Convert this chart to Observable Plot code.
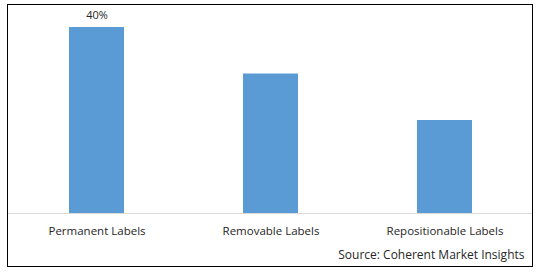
<!DOCTYPE html>
<html>
<head>
<meta charset="utf-8">
<script src="https://cdn.jsdelivr.net/npm/d3@7"></script>
<script src="https://cdn.jsdelivr.net/npm/@observablehq/plot@0.6"></script>
<style>
  html, body { margin: 0; padding: 0; background: #fff; }
  #wrap { position: relative; width: 539px; height: 272px; }
  #border { position: absolute; left: 7px; top: 4px; width: 526px; height: 263px; box-sizing: border-box; border: 1px solid #000; pointer-events: none; }
  #chart svg { display: block; }
</style>
</head>
<body>
<div id="wrap">
  <div id="chart"></div>
  <div id="border"></div>
</div>
<script>
const categories = ["Permanent Labels", "Removable Labels", "Repositionable Labels"];
const shares = [40, 30, 20];
const valueLabels = ["40%", "", ""];
const source = "Source: Coherent Market Insights";

const data = categories.map((c, i) => ({category: c, value: shares[i], label: valueLabels[i]}));

const chart = Plot.plot({
  width: 539,
  height: 272,
  marginLeft: 8,
  marginRight: 7,
  marginTop: 27,
  marginBottom: 59,
  style: {fontFamily: "'Open Sans', sans-serif", fontSize: "11px", color: "#262626", background: "#fff"},
  x: {type: "band", domain: categories, paddingInner: 0.685, paddingOuter: 0.3425, axis: null},
  y: {domain: [0, 40], axis: null},
  marks: [
    Plot.barY(data, {x: "category", y: "value", fill: "#5B9BD5"}),
    Plot.ruleY([0], {stroke: "#d9d9d9"}),
    Plot.text(data, {x: "category", y: "value", text: "label", dy: -12, fill: "#262626", fontSize: 11}),
    Plot.text(data, {x: "category", y: 0, text: "category", dy: 18, fill: "#262626", fontSize: 11.5}),
    Plot.text([source], {frameAnchor: "bottom-right", text: d => d, dx: -8, dy: 45, textAnchor: "end", fill: "#262626", fontSize: 12})
  ]
});
document.getElementById("chart").appendChild(chart);
</script>
</body>
</html>
